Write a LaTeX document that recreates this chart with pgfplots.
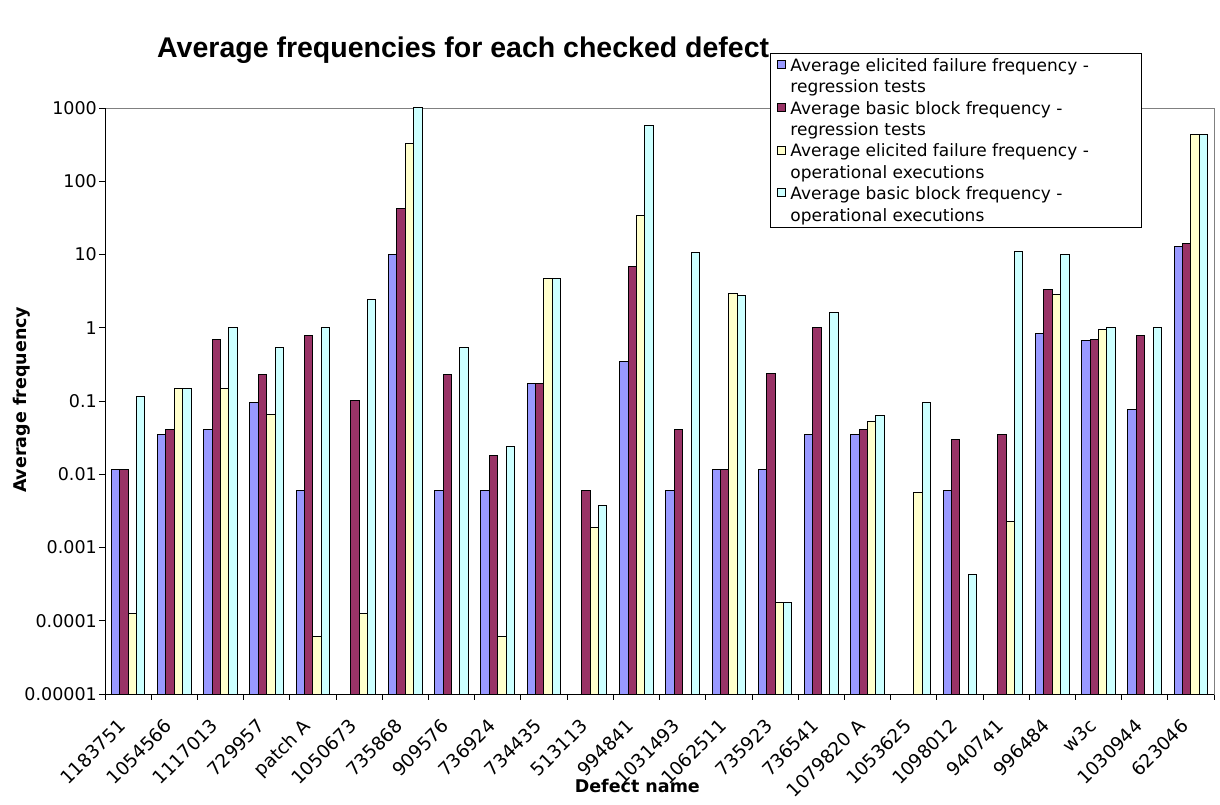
\documentclass[border=0pt]{standalone}
\usepackage{fontspec}
\setmainfont{DejaVu Sans}
\newfontfamily\titlefont{Liberation Sans}
\usepackage{pgfplots}
\pgfplotsset{compat=1.18}
\definecolor{cA}{HTML}{9999FF}
\definecolor{cB}{HTML}{993366}
\definecolor{cC}{HTML}{FFFFCC}
\definecolor{cD}{HTML}{CCFFFF}
\begin{document}
\begin{tikzpicture}[x=1pt,y=1pt]
\useasboundingbox (0,0) rectangle (1220,805);
\begin{axis}[
  at={(105pt,111pt)}, anchor=south west,
  scale only axis, width=1109pt, height=586pt,
  ymode=log, log origin=infty, ymin=1e-5, ymax=1000,
  xmin=-0.5, xmax=23.5,
  ybar=0pt, bar width=8.4pt,
  ytick={1e-5,1e-4,0.001,0.01,0.1,1,10,100,1000},
  yticklabels={0.00001,0.0001,0.001,0.01,0.1,1,10,100,1000},
  yminorticks=false,
  xtick={0,...,23},
  xticklabels={1183751,1054566,1117013,729957,patch A,1050673,735868,909576,736924,734435,513113,994841,1031493,1062511,735923,736541,1079820 A,1053625,1098012,940741,996484,w3c,1030944,623046},
  minor xtick={-0.5,0.5,...,23.5},
  tick pos=left,
  major x tick style={draw=none},
  minor x tick style={black, line width=0.8pt},
  y tick style={black, line width=0.8pt},
  minor tick length=6pt, major tick length=6pt,
  tick align=outside,
  axis line style={draw=gray, line width=0.8pt},
  /pgf/number format/assume math mode=true,
  yticklabel style={font=\fontsize{17.5}{20}\selectfont, inner sep=2pt},
  xticklabel style={font=\fontsize{18.5}{20}\selectfont, inner sep=1pt, xshift=-11pt, yshift=-16pt, rotate=45, anchor=north east},
  title={\titlefont\bfseries Average frequencies for each checked defect},
  title style={font=\fontsize{28.5}{30}\selectfont, at={(axis description cs:0.323,1.089)}, anchor=center},
  xlabel={Defect name},
  xlabel style={font=\bfseries\fontsize{17.5}{20}\selectfont, at={(axis description cs:0.48,-0.157)}, anchor=center},
  ylabel={Average frequency},
  ylabel style={font=\bfseries\fontsize{17.5}{20}\selectfont, at={(axis description cs:-0.0748,0.502)}, anchor=center},
  legend style={at={(0.5997,1.0939)}, anchor=north west, draw=black, line width=0.8pt, fill=white,
    font=\fontsize{17}{21.7}\selectfont, cells={anchor=west, align=left}, inner xsep=5pt, inner ysep=3pt, row sep=2.6pt},
  legend image code/.code={\path[draw=none,fill=none] (0pt,0pt) -- (13pt,0pt);\draw[#1, draw=black, line width=0.7pt] (2pt,8pt) rectangle (10pt,16pt);},
]
\addplot[fill=cA, draw=black, line width=1pt] coordinates {
(0,0.0116) (1,0.0349) (2,0.0414) (3,0.095) (4,0.006) (6,10) (7,0.006) (8,0.006) (9,0.171)
(11,0.349) (12,0.006) (13,0.0116) (14,0.0116) (15,0.0349) (16,0.0349) (18,0.006)
(20,0.843) (21,0.66) (22,0.077) (23,12.9)};
\addplot[fill=cB, draw=black, line width=1pt] coordinates {
(0,0.0116) (1,0.0414) (2,0.684) (3,0.23) (4,0.78) (5,0.1) (6,42.4) (7,0.23) (8,0.0178) (9,0.171)
(10,0.006) (11,6.92) (12,0.0414) (13,0.0116) (14,0.241) (15,1.0) (16,0.0414) (18,0.0294)
(19,0.0349) (20,3.36) (21,0.684) (22,0.78) (23,14.1)};
\addplot[fill=cC, draw=black, line width=1pt] coordinates {
(0,0.000125) (1,0.146) (2,0.146) (3,0.066) (4,0.0000615) (5,0.000125) (6,332) (8,0.0000615)
(9,4.74) (10,0.00185) (11,34.4) (13,2.97) (14,0.00018) (16,0.0529) (17,0.0057) (19,0.0023)
(20,2.83) (21,0.95) (23,440)};
\addplot[fill=cD, draw=black, line width=1pt] coordinates {
(0,0.117) (1,0.146) (2,1.0) (3,0.54) (4,1.0) (5,2.41) (6,1000) (7,0.54) (8,0.0239) (9,4.74)
(10,0.00375) (11,569) (12,10.5) (13,2.73) (14,0.00018) (15,1.59) (16,0.0628) (17,0.095)
(18,0.000425) (19,11.0) (20,10) (21,1.0) (22,1.0) (23,440)};
\addlegendentry{Average elicited failure frequency -\hspace*{46pt}\\regression tests}
\addlegendentry{Average basic block frequency -\\regression tests}
\addlegendentry{Average elicited failure frequency -\\operational executions}
\addlegendentry{Average basic block frequency -\\operational executions}
\draw[black, line width=0.8pt] (rel axis cs:0,0) -- (rel axis cs:0,1);
\draw[black, line width=0.8pt] (rel axis cs:0,0) -- (rel axis cs:1,0);
\end{axis}
\end{tikzpicture}
\end{document}
